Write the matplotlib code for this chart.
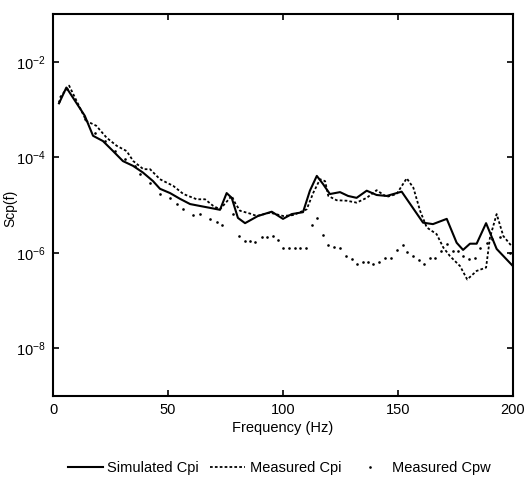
import numpy as np
import matplotlib
matplotlib.use("Agg")
import matplotlib.pyplot as plt
from matplotlib.ticker import FixedLocator, NullLocator, LogFormatterMathtext

plt.rcParams["font.family"] = ["Liberation Sans", "DejaVu Sans"]
plt.rcParams["mathtext.fontset"] = "custom"
plt.rcParams["mathtext.rm"] = "Liberation Sans"
plt.rcParams["mathtext.it"] = "Liberation Sans"

# Simulated Cpi (freq in Hz, log10 of Scp)
sim_f = [2.6, 5.8, 13.8, 17.4, 21.7, 26.1, 30.4, 34.8, 39.1, 43.5, 46.5, 50.9, 55.2,
         59.6, 63.9, 68.3, 72.6, 75.5, 77.7, 80.4, 83.5, 89.1, 95.1, 100.0, 103.8,
         108.7, 111.7, 114.7, 117.4, 120.4, 124.8, 128.3, 132.0, 136.4, 140.7, 145.1,
         151.6, 160.9, 165.2, 171.2, 175.5, 178.3, 181.3, 184.2, 188.3, 192.9, 200.0]
sim_log = [-2.87, -2.54, -3.13, -3.55, -3.66, -3.87, -4.08, -4.18, -4.32, -4.50, -4.66,
           -4.75, -4.87, -4.98, -5.02, -5.06, -5.10, -4.75, -4.85, -5.27, -5.38, -5.23,
           -5.14, -5.29, -5.19, -5.15, -4.70, -4.39, -4.56, -4.77, -4.73, -4.81, -4.85,
           -4.70, -4.79, -4.81, -4.72, -5.37, -5.40, -5.29, -5.79, -5.94, -5.81, -5.81,
           -5.38, -5.92, -6.28]

# Measured Cpi
cpi_f = [3.0, 7.0, 14.5, 18.8, 23.3, 27.7, 32.0, 34.9, 39.3, 42.2, 46.5, 52.3, 56.7,
         62.5, 66.1, 69.7, 72.6, 77.7, 79.1, 81.3, 85.7, 88.6, 94.3, 100.1, 104.5,
         110.3, 113.2, 116.1, 118.3, 119.7, 123.3, 127.7, 132.0, 136.4, 140.7, 145.1,
         149.4, 153.8, 156.7, 159.6, 162.5, 166.8, 169.7, 172.6, 177.0, 180.1, 184.2,
         188.3, 190.0, 192.9, 195.8, 199.4]
cpi_log = [-2.75, -2.50, -3.24, -3.34, -3.59, -3.76, -3.87, -4.08, -4.25, -4.25, -4.46,
           -4.60, -4.77, -4.88, -4.88, -5.02, -5.09, -4.81, -4.95, -5.12, -5.18, -5.23,
           -5.16, -5.23, -5.21, -5.09, -4.74, -4.46, -4.50, -4.81, -4.90, -4.91, -4.95,
           -4.85, -4.69, -4.83, -4.77, -4.44, -4.64, -5.12, -5.47, -5.61, -5.89, -6.07,
           -6.28, -6.56, -6.38, -6.31, -5.68, -5.19, -5.65, -5.86]

# Measured Cpw
cpw_f = [2.6, 6.1, 13.9, 18.3, 22.6, 27.0, 31.3, 35.7, 37.8, 42.2, 46.5, 50.9, 53.8,
         56.7, 61.0, 63.9, 68.3, 71.2, 73.3, 78.4, 81.0, 83.5, 85.7, 87.8, 90.7, 92.9,
         95.5, 98.0, 100.1, 102.7, 105.2, 107.4, 110.0, 112.5, 114.7, 117.5, 119.7,
         122.2, 124.8, 127.3, 129.9, 132.0, 134.7, 137.1, 139.3, 141.9, 144.3, 146.8,
         149.4, 152.0, 154.0, 156.7, 159.3, 161.4, 163.9, 166.1, 168.6, 171.2, 173.8,
         176.2, 178.4, 181.0, 183.5, 185.7, 188.6, 190.7, 194.3, 198.7]
cpw_log = [-2.82, -2.57, -3.19, -3.49, -3.66, -3.87, -4.03, -4.18, -4.35, -4.53, -4.77,
           -4.86, -4.98, -5.09, -5.21, -5.19, -5.30, -5.35, -5.42, -5.19, -5.65, -5.75,
           -5.75, -5.77, -5.68, -5.66, -5.65, -5.74, -5.91, -5.89, -5.89, -5.91, -5.89,
           -5.42, -5.28, -5.63, -5.84, -5.88, -5.91, -6.07, -6.14, -6.23, -6.19, -6.19,
           -6.23, -6.19, -6.10, -6.10, -5.95, -5.84, -5.98, -6.07, -6.16, -6.23, -6.12,
           -6.12, -5.96, -5.81, -5.96, -5.96, -6.07, -6.14, -6.12, -5.91, -5.79, -5.72,
           -5.68, -6.00]

fig = plt.figure(figsize=(5.27, 4.92), dpi=100)
ax = fig.add_axes([0.1006, 0.1951, 0.8728, 0.7764])

ax.plot(sim_f, 10.0 ** np.array(sim_log), color="black", lw=1.5, label="Simulated Cpi")
ax.plot(cpi_f, 10.0 ** np.array(cpi_log), color="black", lw=1.3, ls=(0, (1.5, 1.2)),
        label="Measured Cpi")
ax.plot(cpw_f, 10.0 ** np.array(cpw_log), color="black", ls="none", marker="o",
        ms=1.9, mew=0, label="Measured Cpw")

ax.set_yscale("log")
ax.set_xlim(0, 200)
ax.set_ylim(1e-9, 1e-1)
ax.set_xticks([0, 50, 100, 150, 200])
ax.yaxis.set_major_locator(FixedLocator([1e-2, 1e-4, 1e-6, 1e-8]))
ax.yaxis.set_major_formatter(LogFormatterMathtext())
ax.yaxis.set_minor_locator(NullLocator())
ax.tick_params(direction="in", top=True, right=True, length=4, width=1.2,
               labelsize=10.5, pad=5)
for s in ax.spines.values():
    s.set_linewidth(1.5)

ax.set_xlabel("Frequency (Hz)", fontsize=10.5, labelpad=3)
ax.set_ylabel("Scp(f)", fontsize=10)
ax.yaxis.set_label_coords(-0.077, 0.49)

fig.legend(loc="center", bbox_to_anchor=(0.53, 1 - 468 / 492), ncol=3,
           frameon=False, fontsize=10.5, handlelength=2.4, handletextpad=0.3,
           columnspacing=0.8)

fig.savefig("out.png", dpi=100)
